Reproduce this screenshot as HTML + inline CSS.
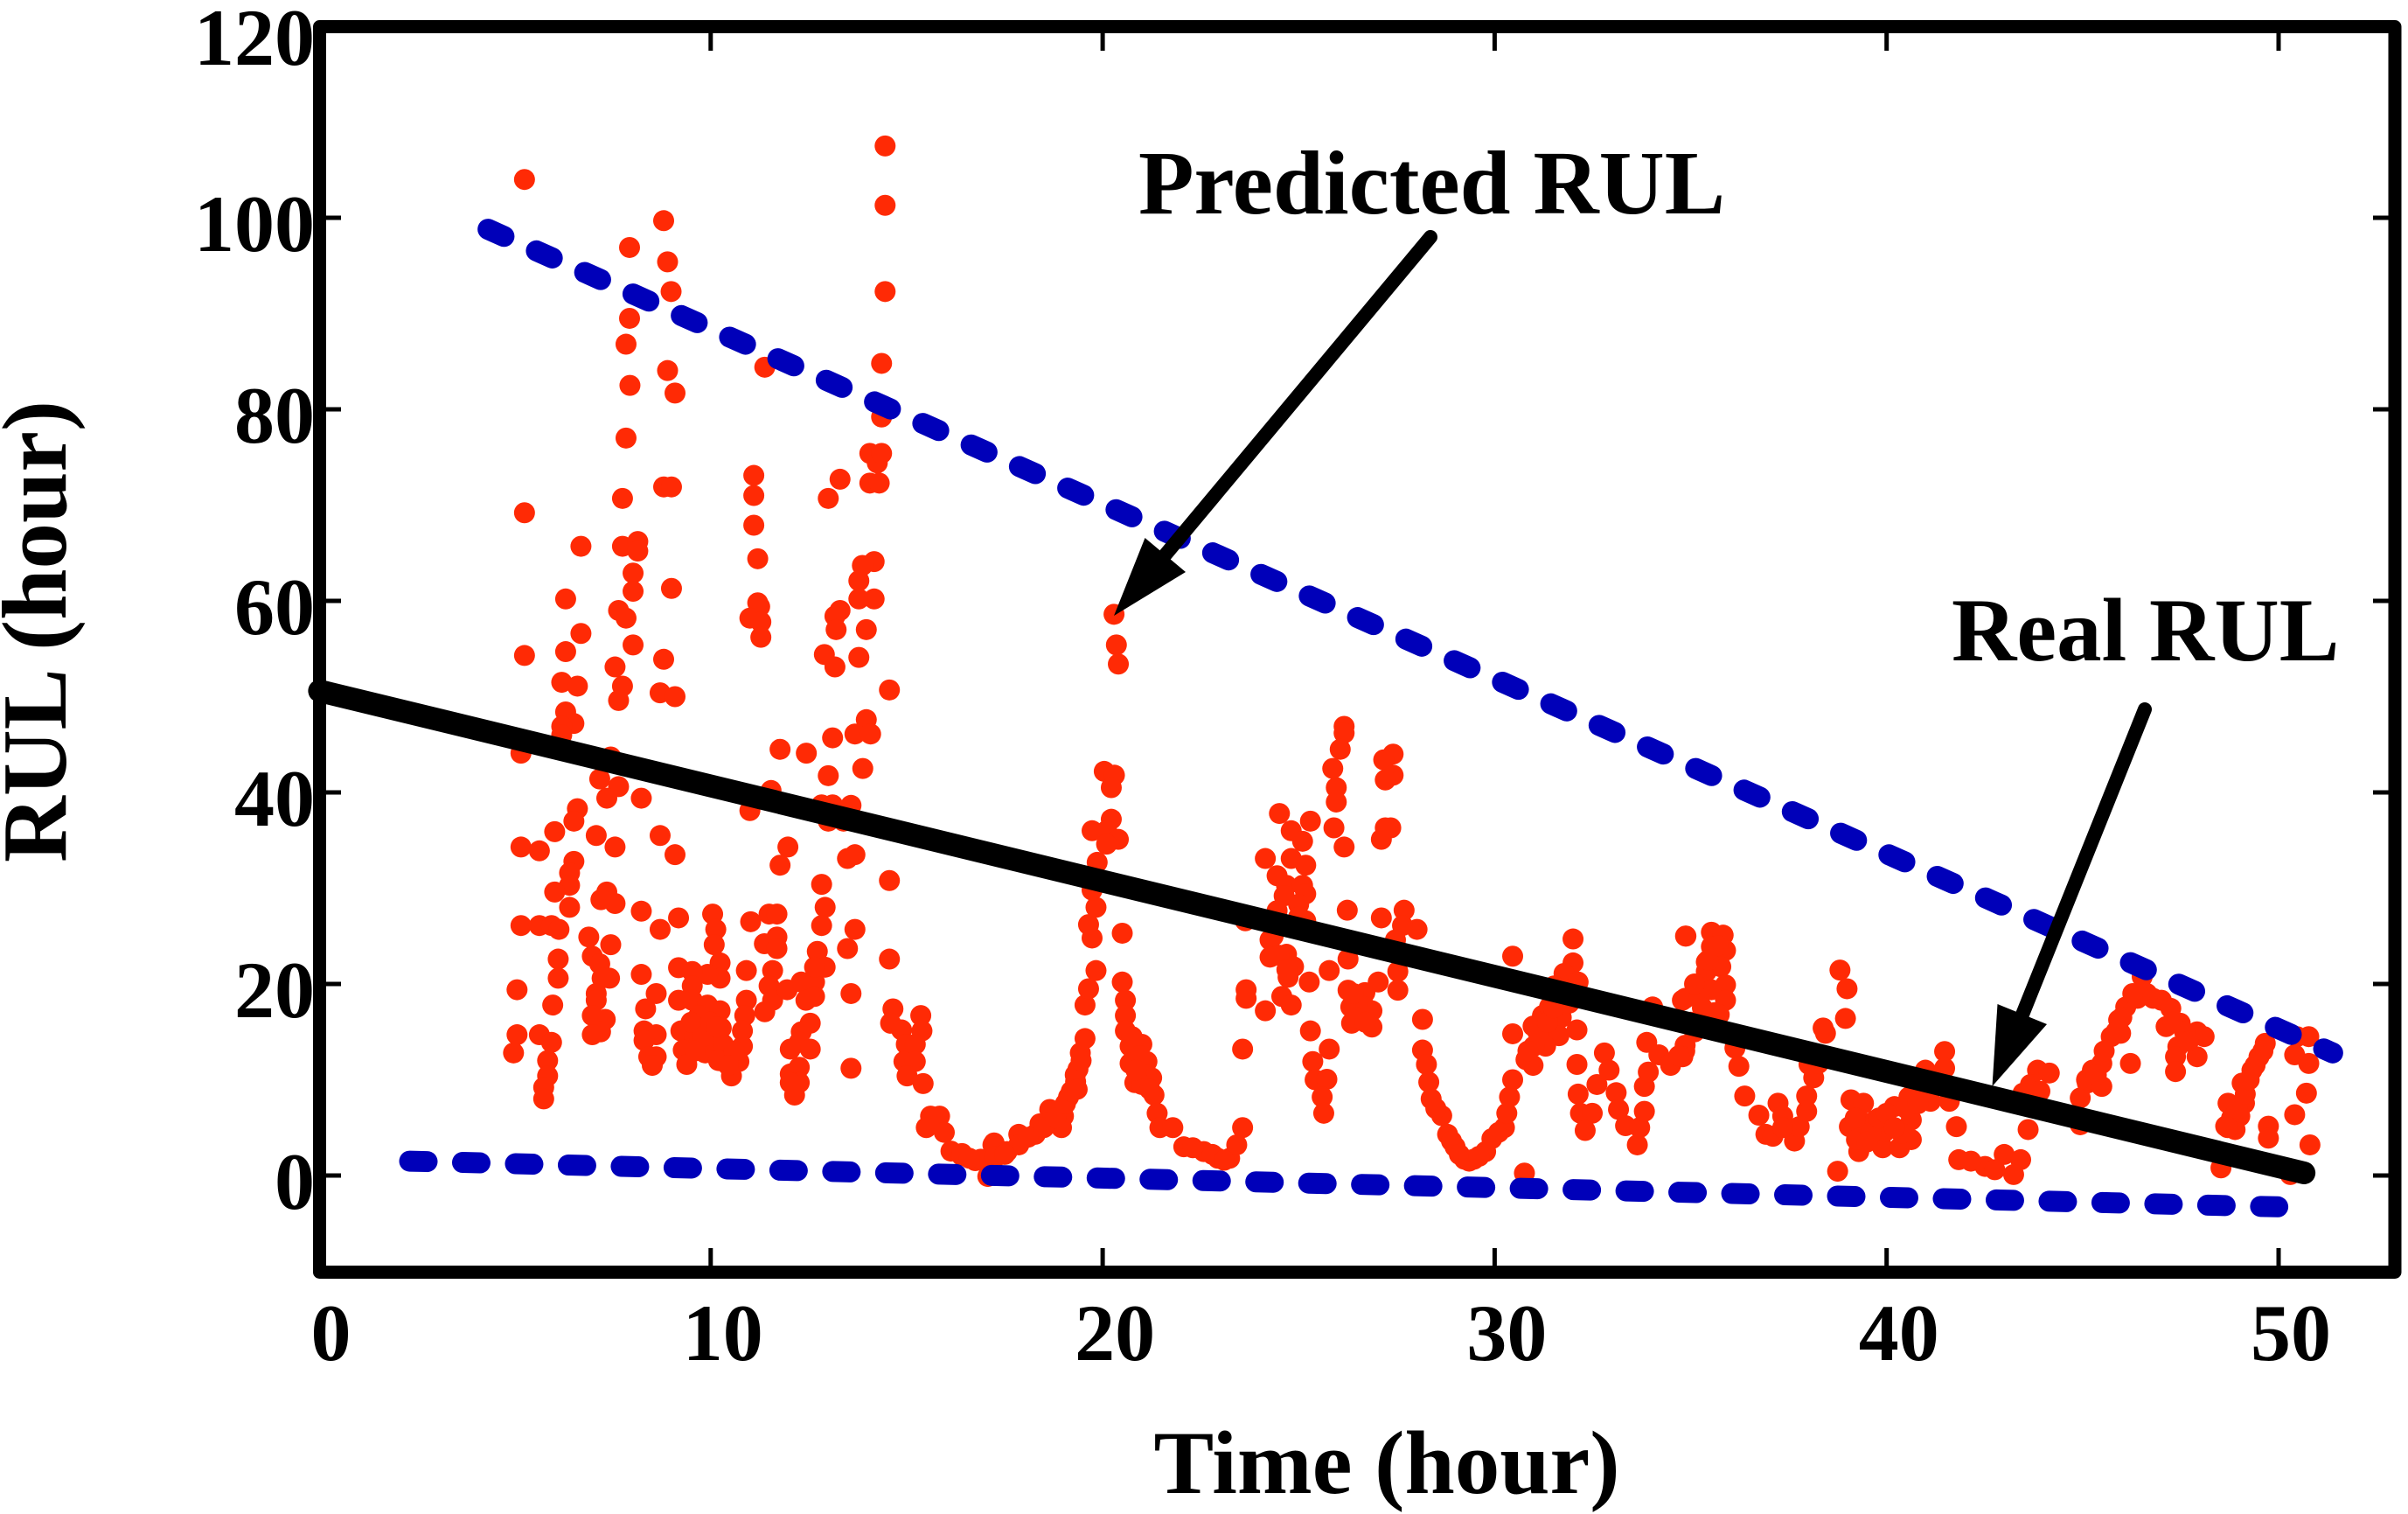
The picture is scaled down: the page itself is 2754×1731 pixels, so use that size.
<!DOCTYPE html>
<html lang="en">
<head>
<meta charset="utf-8">
<title>Predicted and real RUL over time</title>
<style>
html,body{margin:0;padding:0;background:#fff;}
svg{display:block;}
text{font-family:"Liberation Serif",serif;font-weight:bold;fill:#000;}
</style>
</head>
<body>
<svg id="chart" xmlns="http://www.w3.org/2000/svg" width="2754" height="1731" viewBox="0 0 2754 1731">
<rect x="0" y="0" width="2754" height="1731" fill="#fff"/>
<g id="ticks"></g>
<g id="points"></g>
<g id="bounds"></g>
<rect x="365.5" y="30.5" width="2373.5" height="1424" fill="none" stroke="#000" stroke-width="15" stroke-linejoin="round"/>
<g id="real"></g>
<g id="labels"></g>
<text x="1586" y="1707" font-size="103" text-anchor="middle">Time (hour)</text>
<text transform="translate(75,722) rotate(-90)" font-size="105" text-anchor="middle">RUL (hour)</text>
<text x="1302" y="244" font-size="104">Predicted RUL</text>
<text x="2232" y="755" font-size="103">Real RUL</text>
<g>
<line x1="1636" y1="271" x2="1333" y2="634" stroke="#000" stroke-width="16" stroke-linecap="round"/>
<polygon points="1274,704 1309.5,615 1356,654" fill="#000"/>
</g>
<g>
<line x1="2453" y1="811" x2="2313" y2="1160" stroke="#000" stroke-width="16" stroke-linecap="round"/>
<polygon points="2278.5,1242 2284.5,1148 2341,1171" fill="#000"/>
</g>
</svg>
<script>
const xTickValues = [0, 10, 20, 30, 40, 50];
const yTickValues = [0, 20, 40, 60, 80, 100, 120];
const realTime = [0.02, 50.65];
const realRul = [50.6, 0.27];
const upperTime = [4.32, 51.38];
const upperRul = [98.8, 12.8];
const lowerTime = [2.32, 49.98];
const lowerRul = [1.5, -3.27];
const predictedTime = [
5.25,14.45,14.45,8.8,7.93,8.9,8.99,7.93,7.84,14.45,
8.9,7.94,9.09,11.38,14.36,14.36,7.84,14.06,14.25,14.36,
14.06,14.3,13.3,13.0,11.1,11.1,11.1,11.2,8.8,9.0,
7.75,5.25,6.69,7.75,8.14,8.14,8.02,8.02,9.0,6.3,
7.65,7.84,6.69,8.02,6.3,5.25,8.8,14.17,13.87,13.78,
13.78,14.17,13.3,13.17,13.2,13.97,11.2,11.25,11.0,11.28,
11.28,12.9,13.78,7.56,7.75,7.65,8.71,9.09,6.2,6.6,
6.3,6.51,6.2,6.2,13.17,14.56,13.97,13.68,14.08,13.11,
12.44,11.77,13.88,13.0,11.54,11.0,12.83,13.11,13.58,13.0,
13.39,5.16,7.45,7.17,7.65,7.35,8.23,6.6,6.51,6.02,
7.08,8.71,7.56,5.16,5.63,9.09,11.97,11.77,13.68,13.49,
12.83,14.56,6.51,6.4,6.4,6.02,6.4,7.35,7.2,7.56,
8.23,9.18,8.71,5.16,5.63,5.94,6.13,6.89,7.45,6.98,
7.17,6.11,6.11,8.23,7.42,7.23,7.08,7.08,5.97,5.06,
8.61,8.34,6.98,7.31,7.19,6.98,5.06,5.63,5.94,4.97,
5.84,5.84,5.74,5.74,8.3,8.61,8.3,8.42,8.61,8.51,
10.05,10.13,10.09,10.24,10.24,9.92,9.18,9.53,9.53,9.18,
9.53,9.92,10.24,9.7,9.7,9.24,9.58,9.3,9.7,9.86,
9.39,10.27,10.09,10.32,10.91,11.02,11.49,11.69,11.69,11.37,
11.69,11.58,11.49,11.58,11.38,10.91,10.87,10.81,10.81,10.72,
10.33,10.53,11.95,12.31,12.65,12.43,12.65,12.72,12.92,12.65,
12.54,12.31,12.26,12.54,12.03,12.26,12.03,12.26,12.03,12.14,
12.92,12.83,13.68,13.49,14.56,13.58,13.58,14.65,15.36,14.59,
14.87,15.39,14.99,15.22,14.93,15.22,15.01,15.42,15.61,15.84,
15.5,15.96,16.13,16.4,16.75,17.07,17.2,17.2,16.41,16.89,
17.23,17.26,17.56,17.86,17.86,18.28,18.4,18.65,18.95,18.65,
19.0,18.95,19.13,19.31,19.37,19.43,19.55,19.55,19.64,19.83,
19.73,19.64,19.83,19.73,19.86,19.73,20.04,20.3,20.22,20.22,
20.1,20.4,20.1,20.4,20.35,20.29,20.5,20.5,20.58,20.58,
20.58,20.7,21.0,20.7,21.13,20.82,21.25,21.31,21.39,21.46,
21.79,22.07,22.58,22.94,23.24,23.42,23.57,23.57,23.66,23.66,
23.64,24.15,24.51,25.3,24.81,25.1,24.81,25.18,24.45,24.69,
25.1,25.18,24.63,25.0,24.45,25.18,24.27,24.27,24.69,24.87,
24.73,24.57,24.81,24.15,25.27,25.3,25.78,25.36,25.42,25.72,
25.6,25.64,26.16,26.16,26.06,25.87,25.96,25.96,25.9,26.16,
26.24,25.78,26.26,27.11,27.69,28.02,27.65,27.47,27.41,27.17,
27.41,27.21,27.35,27.21,27.11,27.03,26.69,26.26,27.53,27.53,
26.33,26.69,26.35,26.87,26.87,26.57,28.16,28.16,28.26,28.32,
28.38,28.65,28.8,28.99,29.23,29.47,29.77,29.93,30.25,30.31,
30.38,30.46,30.8,30.98,30.46,30.46,30.76,30.98,31.22,31.22,
31.46,31.7,32.0,32.0,31.77,32.13,31.52,31.4,31.64,32.1,
32.1,32.8,32.61,32.13,32.92,33.1,32.19,32.49,32.31,33.16,
33.34,33.64,33.7,33.82,33.82,33.92,33.88,34.03,34.19,34.49,
34.85,34.87,34.79,34.88,35.53,35.83,35.53,35.89,35.4,35.77,
35.4,35.22,35.89,35.53,34.86,35.22,35.89,35.73,34.86,34.49,
34.8,38.81,38.99,38.95,38.44,38.38,36.13,36.23,38.02,38.14,
38.26,36.38,36.74,37.23,37.35,36.92,37.1,37.65,37.77,37.96,
37.96,37.35,38.75,39.09,39.41,39.05,39.29,39.23,39.41,39.72,
39.9,40.33,40.2,40.63,40.63,39.96,40.39,40.57,40.99,41.12,
41.48,41.48,41.6,40.81,41.78,41.84,42.51,43.0,43.42,43.24,
42.76,42.15,43.61,43.85,44.15,43.67,43.91,43.48,44.94,44.94,
45.12,45.25,45.49,45.73,45.97,45.92,46.1,46.28,46.52,46.64,
47.01,47.25,47.13,47.49,47.92,48.1,47.43,47.92,47.37,47.37,
46.22,45.49,48.53,48.65,48.89,48.71,49.13,49.07,49.32,49.5,
49.66,49.01,49.74,49.74,50.41,50.71,50.8,50.47,50.77,50.41,
50.77,50.3,
18.1,18.5,18.8,19.05,19.2,19.3,19.35,19.45,20.75,20.9,
21.0,21.1,21.0,21.2,20.95,20.85,16.6,17.5,22.3,22.8,
23.1,28.5,28.9,29.1,29.35,29.6,30.1,31.1,31.35,31.5,
31.6,31.75,31.9,31.3,31.0,30.85,35.1,35.3,35.6,35.0,
35.45,35.7,35.1,34.7,39.6,39.8,40.0,40.2,39.5,40.5,
40.8,39.2,45.1,45.35,45.55,45.85,46.0,46.4,46.8,47.3,
47.6,47.7,48.8,48.95,49.15,49.25,49.4,49.6,48.7,9.5,
9.8,10.0,10.15,9.6,10.2,10.6,10.45,26.5,26.45,26.7,
26.4,24.8,25.0,24.35,24.5,24.7
];
const predictedRul = [
104.0,107.5,101.3,99.7,96.9,95.4,92.3,89.5,86.8,92.3,
84.05,82.5,81.7,84.4,84.8,79.2,77.0,75.4,74.4,75.4,
72.3,72.3,72.7,70.7,73.1,71.0,67.9,64.4,71.9,71.9,
70.7,69.2,65.7,65.7,66.2,65.2,62.9,61.0,61.3,60.2,
59.0,58.2,56.6,55.4,54.7,54.3,53.9,64.1,63.7,62.1,
60.2,60.2,59.0,58.4,57.0,57.0,59.8,59.4,58.2,57.8,
56.2,54.4,54.1,53.1,51.1,49.6,50.4,50.0,51.5,51.1,
48.4,47.2,46.9,46.0,53.1,50.7,47.6,46.1,46.1,45.7,
44.1,44.5,42.5,41.75,40.2,38.1,38.7,38.7,38.65,37.0,
37.0,44.1,43.7,41.4,40.6,39.4,39.4,38.3,37.0,35.9,
35.5,35.5,34.3,34.3,33.9,33.5,34.3,32.4,33.5,33.1,
30.4,30.8,32.8,31.6,30.3,29.6,28.0,29.6,28.8,28.4,
27.6,26.9,25.7,26.1,26.1,26.1,25.7,24.9,24.1,22.9,
22.1,22.6,20.6,21.0,20.6,20.6,19.0,18.3,17.8,19.4,
19.0,17.4,16.7,16.3,15.0,14.7,14.7,14.7,13.9,12.8,
12.0,10.4,9.2,8.0,15.1,14.7,14.1,12.4,12.4,11.5,
27.3,25.7,24.1,22.2,20.6,21.0,21.7,21.3,19.8,18.3,
18.3,17.8,17.2,16.7,15.4,15.1,14.6,13.1,13.9,12.8,
11.6,15.4,14.1,13.7,21.4,26.5,27.3,27.3,24.9,24.2,
23.7,21.4,19.8,18.3,17.1,18.3,16.7,15.1,13.5,11.9,
11.9,10.4,19.4,20.2,20.2,18.3,18.7,23.4,21.75,21.75,
15.9,15.0,13.9,13.2,13.2,11.3,10.6,9.7,9.7,8.4,
28.0,26.1,25.7,23.7,22.6,19.0,11.2,17.4,16.7,15.9,
15.2,15.1,13.7,13.7,11.9,11.9,10.4,9.6,6.2,6.2,
5.0,4.5,2.55,2.1,1.55,-0.1,3.2,1.55,2.3,1.7,
3.4,2.0,2.5,4.3,3.2,4.3,5.4,6.9,6.9,5.6,
6.2,5.0,8.2,9.8,11.1,12.8,14.3,17.8,19.5,21.4,
24.8,26.2,28.0,29.8,32.7,36.0,42.2,41.8,40.5,37.2,
36.0,35.1,34.6,53.4,55.4,58.6,25.3,20.2,18.3,16.7,
15.1,13.5,13.7,11.7,11.9,9.7,10.2,8.4,6.5,5.0,
5.0,3.0,2.5,1.8,1.8,3.2,5.0,13.2,19.4,18.5,
26.6,33.1,37.8,37.0,36.0,34.9,33.1,32.4,31.3,30.3,
30.3,29.4,29.2,28.3,27.65,26.6,24.6,22.8,23.1,21.8,
20.7,18.7,17.8,17.2,20.2,15.1,13.2,11.9,10.0,10.05,
8.2,6.5,46.9,46.2,44.5,42.5,40.5,39.0,36.3,34.3,
27.7,21.4,22.6,26.9,27.7,25.7,26.1,24.6,44.0,43.4,
41.8,41.3,36.3,36.3,35.1,20.2,19.1,19.35,21.3,19.35,
17.6,17.6,15.9,17.2,15.5,16.7,16.3,13.1,11.6,9.75,
8.0,6.25,4.3,3.0,1.7,1.7,2.5,3.85,5.0,6.5,
8.2,10.0,12.1,11.5,14.8,22.9,0.25,15.6,16.7,13.9,
15.2,16.5,24.7,22.2,21.1,20.2,19.8,17.6,14.6,15.2,
11.6,12.8,9.5,8.5,11.0,8.65,6.5,6.5,4.7,6.9,
5.2,3.2,5.0,6.7,9.3,10.8,13.9,17.6,12.6,11.5,
13.0,25.0,18.3,25.0,25.4,25.1,23.9,23.5,22.3,21.8,
21.3,19.7,19.9,19.4,18.5,18.5,18.3,16.8,13.6,11.7,
12.4,21.45,19.5,16.4,14.85,15.4,13.3,11.4,11.6,10.2,
11.7,8.3,6.3,7.55,6.2,4.3,4.1,3.6,5.1,6.7,
8.3,5.0,0.45,7.9,7.55,5.1,2.5,3.75,5.5,5.8,
2.9,2.9,7.2,5.8,3.75,4.6,4.4,8.2,11.0,7.75,
12.95,11.2,7.75,9.3,5.1,1.65,0.95,2.2,1.65,0.1,
0.6,1.5,4.8,11.0,10.7,9.5,8.8,8.6,8.1,5.3,
9.65,11.0,11.7,14.5,14.85,16.25,17.6,19.0,20.75,19.0,
18.3,17.45,15.55,15.9,15.0,14.5,13.45,12.4,12.4,10.85,
11.7,9.3,0.8,5.15,4.8,7.55,7.55,9.65,11.0,12.4,
13.8,6.2,5.15,3.9,6.35,8.6,3.2,14.5,14.5,12.6,
11.7,0.1,
4.0,5.0,6.0,7.5,8.8,10.5,9.0,12.0,14.5,12.8,
11.5,10.5,9.5,9.0,12.5,11.0,1.8,2.2,2.9,2.2,
1.6,7.0,3.6,2.2,1.5,2.0,4.5,15.0,16.0,17.5,
18.5,19.5,18.0,13.5,13.5,13.0,20.0,17.5,17.0,16.0,
22.5,24.0,15.0,12.5,4.5,6.0,6.5,5.0,3.5,7.0,
7.5,6.0,10.0,10.5,13.0,15.0,16.5,18.5,18.5,16.0,
15.0,14.0,6.0,7.0,8.5,10.0,11.5,13.0,5.0,16.0,
14.5,16.0,15.5,13.0,12.0,13.0,11.5,18.0,16.5,16.0,
19.0,26.0,27.0,25.0,23.0,21.5
];

const SVG_NS = 'http://www.w3.org/2000/svg';
function xScale(t){ return 364.5 + 44.83 * t; }
function yScale(v){ return 1344 - 10.95 * v; }
function make(tag, attrs, parent){
  const el = document.createElementNS(SVG_NS, tag);
  for (const k in attrs) el.setAttribute(k, attrs[k]);
  parent.appendChild(el);
  return el;
}
const ticksG = document.getElementById('ticks');
const labelsG = document.getElementById('labels');
const pointsG = document.getElementById('points');
const boundsG = document.getElementById('bounds');
const realG = document.getElementById('real');
const tickStyle = {stroke:'#000', 'stroke-width':5};

xTickValues.forEach(function(t){
  const x = xScale(t);
  if (t > 0) {
    const b = make('line', Object.assign({x1:x, y1:1455, x2:x, y2:1427}, tickStyle), ticksG);
    
    
    const u = make('line', Object.assign({x1:x, y1:30, x2:x, y2:58}, tickStyle), ticksG);
    
    
  }
  const lab = make('text', {x:x + 14, y:1555, 'font-size':92, 'text-anchor':'middle'}, labelsG);
  lab.textContent = String(t);
  
  
});
yTickValues.forEach(function(v){
  const y = yScale(v);
  if (v < 120) {
    const l = make('line', Object.assign({x1:365, y1:y, x2:390, y2:y}, tickStyle), ticksG);
    
    
    const r = make('line', Object.assign({x1:2739, y1:y, x2:2714, y2:y}, tickStyle), ticksG);
    
    
  }
  const lab = make('text', {x:360, y:Math.max(y + 38, 74), 'font-size':92, 'text-anchor':'end'}, labelsG);
  lab.textContent = String(v);
  
  
});
const pointCount = Math.min(predictedTime.length, predictedRul.length);
for (let i = 0; i < pointCount; i++) {
  const c = make('circle', {cx:xScale(predictedTime[i]), cy:yScale(predictedRul[i]), r:12, fill:'#ff2a05'}, pointsG);
  
  
}
function seriesPath(ts, vs){
  return ts.map(function(t, i){ return (i ? 'L' : 'M') + xScale(t) + ' ' + yScale(vs[i]); }).join(' ');
}
const upperLine = make('path', {d:seriesPath(upperTime, upperRul), fill:'none', stroke:'#0000b9', 'stroke-width':24, 'stroke-linecap':'round', 'stroke-dasharray':'20 40.5'}, boundsG);


const lowerLine = make('path', {d:seriesPath(lowerTime, lowerRul), fill:'none', stroke:'#0000b9', 'stroke-width':24, 'stroke-linecap':'round', 'stroke-dasharray':'20 40.5'}, boundsG);


const realLine = make('path', {d:seriesPath(realTime, realRul), fill:'none', stroke:'#000', 'stroke-width':26, 'stroke-linecap':'round'}, realG);


</script>
</body>
</html>
